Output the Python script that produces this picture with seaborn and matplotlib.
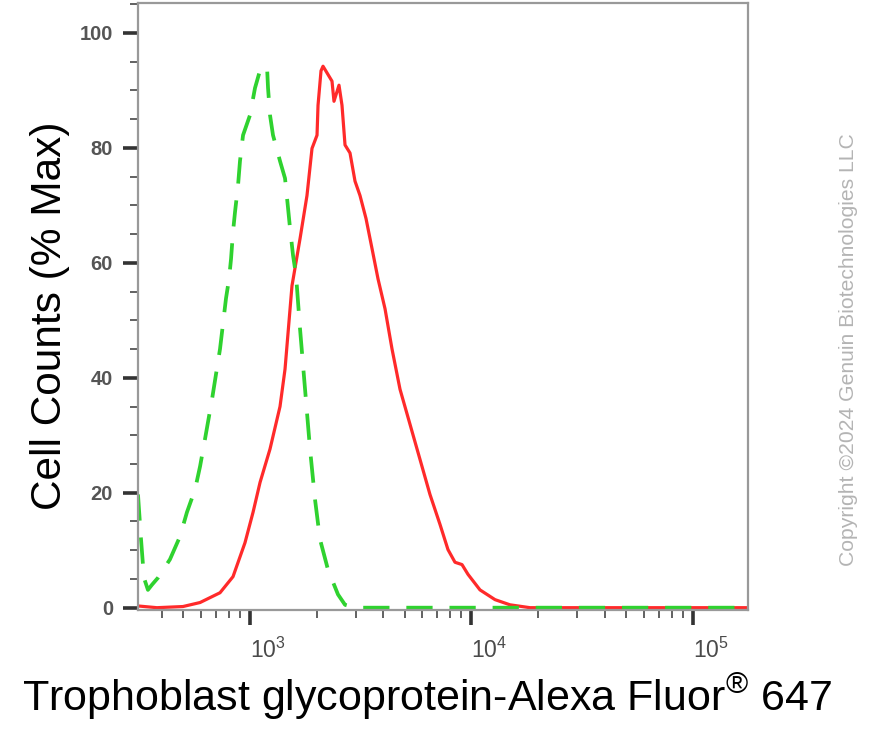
import numpy as np
import pandas as pd
import matplotlib
matplotlib.use('Agg')
import matplotlib.pyplot as plt
import seaborn as sns
from matplotlib.ticker import LogLocator, NullFormatter, MultipleLocator

# Fluorescence intensity (x) vs % max cell counts (y)
stained_x = [312, 380, 498, 595, 732, 838, 949, 1032, 1110, 1231, 1366, 1439, 1547,
             1682, 1808, 1905, 2007, 2028, 2092, 2136, 2345, 2394, 2522, 2602, 2685,
             2828, 2979, 3138, 3340, 3554, 3784, 4070, 4377, 4756, 5277, 5854, 6494,
             7206, 7832, 8424, 9060, 9643, 10920, 12770, 14920, 18370, 177200]
stained_y = [0.3, 0.0, 0.2, 0.9, 2.6, 5.4, 11.3, 16.6, 21.8, 27.6, 35.0, 41.5, 56.0,
             64.2, 71.7, 79.9, 82.2, 87.4, 93.4, 94.2, 91.6, 88.1, 90.9, 87.4, 80.5,
             79.1, 74.2, 71.7, 67.7, 62.5, 57.2, 52.0, 45.0, 38.0, 31.9, 25.8, 19.7,
             14.5, 10.1, 7.9, 7.5, 5.8, 3.1, 1.4, 0.5, 0.0, 0.0]

control_x = [312, 322, 332, 346, 361, 384, 435, 483, 519, 565, 595, 626, 674, 732,
             779, 804, 821, 838, 856, 883, 901, 930, 1000, 1053, 1110, 1193, 1206,
             1231, 1270, 1366, 1439, 1485, 1516, 1564, 1614, 1682, 1772, 1866, 1966,
             2070, 2250, 2496, 2685, 2979, 177200]
control_y = [19.7, 11.9, 5.2, 3.1, 4.0, 5.2, 8.4, 12.4, 16.6, 20.6, 24.6, 29.3, 36.3,
             45.0, 53.8, 57.2, 60.7, 65.4, 68.9, 73.5, 77.7, 82.2, 85.7, 90.4, 93.5,
             94.2, 90.4, 85.7, 82.2, 77.7, 74.7, 69.5, 66.0, 61.3, 57.8, 48.5, 38.0,
             27.6, 18.8, 11.9, 6.6, 2.3, 0.5, 0.0, 0.0]

x_ticks = [1e3, 1e4, 1e5]
x_tick_labels = [r'$\mathregular{10^{3}}$', r'$\mathregular{10^{4}}$', r'$\mathregular{10^{5}}$']
y_ticks = [0, 20, 40, 60, 80, 100]

sns.set_style('ticks')
plt.rcParams['font.family'] = ['Liberation Sans', 'DejaVu Sans']
plt.rcParams['mathtext.fontset'] = 'custom'
plt.rcParams['mathtext.rm'] = 'Liberation Sans'
plt.rcParams['mathtext.it'] = 'Liberation Sans'
plt.rcParams['mathtext.bf'] = 'Liberation Sans:bold'

stained = pd.DataFrame({'x': stained_x, 'y': stained_y})
control = pd.DataFrame({'x': control_x, 'y': control_y})

fig = plt.figure(figsize=(8.8, 7.3), dpi=100)
ax = fig.add_axes([0.1568, 0.1644, 0.6932, 0.8315])

sns.lineplot(data=stained, x='x', y='y', ax=ax, color='#ff2a2a', linewidth=2.3,
             estimator=None, sort=False)
sns.lineplot(data=control, x='x', y='y', ax=ax, color='#2fd22f', linewidth=2.7,
             estimator=None, sort=False)
ax.lines[-1].set_dashes((7, 4.5))

ax.set_xscale('log')
ax.set_xlim(312, 177200)
ax.set_ylim(-0.4, 105.2)

ax.set_xticks(x_ticks)
ax.set_xticklabels(x_tick_labels, ha='left')
ax.xaxis.set_minor_locator(LogLocator(base=10, subs=np.arange(2, 10)))
ax.xaxis.set_minor_formatter(NullFormatter())
ax.set_yticks(y_ticks)
ax.yaxis.set_minor_locator(MultipleLocator(5))

ax.tick_params(which='major', length=11, width=2.6, color='#333333',
               labelsize=14.5, labelcolor='#555555', pad=7)
ax.tick_params(axis='x', which='major', labelsize=16.5, labelcolor='#4a4a4a', pad=9)
ax.tick_params(which='minor', length=5.5, width=1.3, color='#555555')
for lab in ax.get_yticklabels():
    lab.set_fontweight('bold')

for side in ['left', 'bottom', 'top', 'right']:
    ax.spines[side].set_color('#999999')
    ax.spines[side].set_linewidth(1.6)

ax.set_xlabel('')
ax.set_ylabel('')

fig.text(0.485, 0.045, 'Trophoblast glycoprotein-Alexa Fluor$^{®}$ 647',
         fontsize=31, ha='center', va='center', color='black')
fig.text(0.057, 0.568, 'Cell Counts (% Max)', fontsize=30.5, rotation=90,
         ha='center', va='center', color='black')
fig.text(0.964, 0.521, 'Copyright \u00a92024 Genuin Biotechnologies LLC', fontsize=15.2,
         rotation=90, ha='center', va='center', color='#b4b4b4')

fig.savefig('out.png', dpi=100)
